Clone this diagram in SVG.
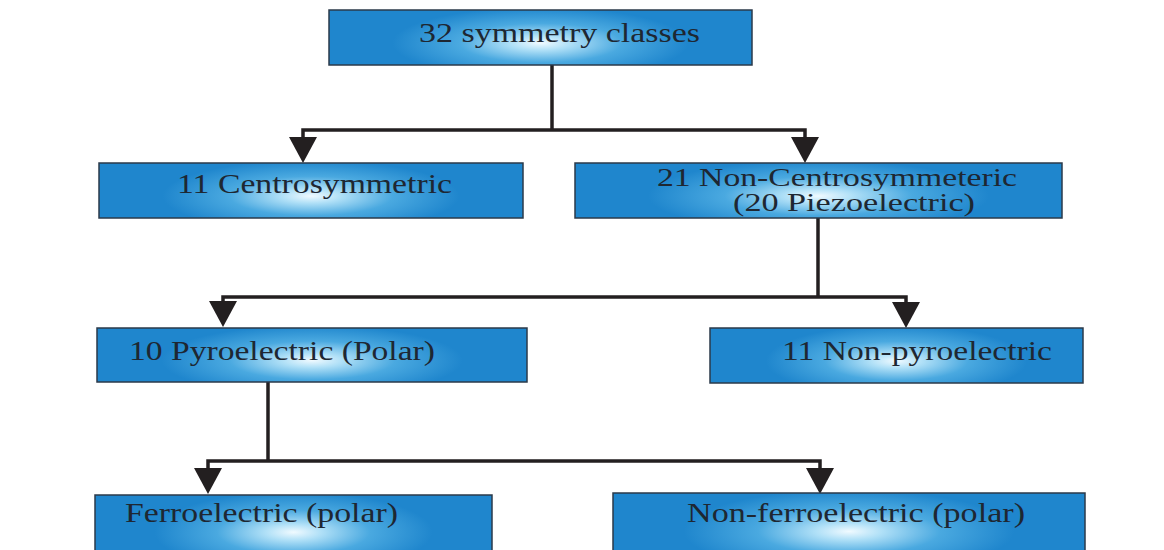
<svg xmlns="http://www.w3.org/2000/svg" width="1164" height="550" viewBox="0 0 1164 550">
  <style>
    .box { fill: url(#blueGrad); stroke: #2b3a4a; stroke-width: 1.5; }
    .lbl { font-family: "Liberation Serif", "Times New Roman", serif; font-size: 27px; fill: #1e2732; }
    .lbl2 { font-family: "Liberation Serif", "Times New Roman", serif; font-size: 25px; fill: #1e2732; }
    .conn { fill: none; stroke: #231f20; stroke-width: 3.5; stroke-linejoin: miter; }
  </style>
  <defs>
    <radialGradient id="blueGrad" cx="0.5" cy="0.6" r="0.5" gradientTransform="translate(0.5,0.6) scale(0.7,1.3) translate(-0.5,-0.6)">
      <stop offset="0" stop-color="#f0faff"/>
      <stop offset="0.2" stop-color="#b0e0f7"/>
      <stop offset="0.55" stop-color="#4aa9e0"/>
      <stop offset="1" stop-color="#1f86cd"/>
    </radialGradient>
    <marker id="arrow" markerUnits="userSpaceOnUse" markerWidth="26" markerHeight="28" viewBox="0 0 26 28" refX="0" refY="14" orient="auto">
      <path d="M0,0 L26,14 L0,28 Z" fill="#231f20"/>
    </marker>
  </defs>

  <rect width="1164" height="550" fill="#ffffff"/>

  <g id="connectors">
    <path class="conn" d="M552,65 V130"/>
    <path class="conn" d="M552,130 H303 V137" marker-end="url(#arrow)"/>
    <path class="conn" d="M552,130 H805 V137" marker-end="url(#arrow)"/>
    <path class="conn" d="M818,218 V297"/>
    <path class="conn" d="M818,297 H223 V301" marker-end="url(#arrow)"/>
    <path class="conn" d="M818,297 H906 V302" marker-end="url(#arrow)"/>
    <path class="conn" d="M268,382 V461"/>
    <path class="conn" d="M268,461 H208 V468" marker-end="url(#arrow)"/>
    <path class="conn" d="M268,461 H820 V468" marker-end="url(#arrow)"/>
  </g>

  <g id="node-32-symmetry">
    <rect class="box" x="329" y="10" width="423" height="55"/>
    <text class="lbl" x="419" y="42" textLength="281" lengthAdjust="spacingAndGlyphs">32 symmetry classes</text>
  </g>

  <g id="node-centrosymmetric">
    <rect class="box" x="99" y="163" width="424" height="55"/>
    <text class="lbl" x="177" y="193" textLength="275" lengthAdjust="spacingAndGlyphs">11 Centrosymmetric</text>
  </g>

  <g id="node-non-centrosymmetric">
    <rect class="box" x="575" y="163" width="487" height="55"/>
    <text class="lbl2" x="657" y="186" textLength="360" lengthAdjust="spacingAndGlyphs">21 Non-Centrosymmeteric</text>
    <text class="lbl2" x="733" y="211" textLength="242" lengthAdjust="spacingAndGlyphs">(20 Piezoelectric)</text>
  </g>

  <g id="node-pyroelectric">
    <rect class="box" x="97" y="328" width="430" height="54"/>
    <text class="lbl" x="129" y="360" textLength="306" lengthAdjust="spacingAndGlyphs">10 Pyroelectric (Polar)</text>
  </g>

  <g id="node-non-pyroelectric">
    <rect class="box" x="710" y="328" width="373" height="55"/>
    <text class="lbl" x="782" y="360" textLength="270" lengthAdjust="spacingAndGlyphs">11 Non-pyroelectric</text>
  </g>

  <g id="node-ferroelectric">
    <rect class="box" x="95" y="495" width="397" height="62"/>
    <text class="lbl" x="125" y="522" textLength="273" lengthAdjust="spacingAndGlyphs">Ferroelectric (polar)</text>
  </g>

  <g id="node-non-ferroelectric">
    <rect class="box" x="613" y="493" width="472" height="64"/>
    <text class="lbl" x="687" y="522" textLength="338" lengthAdjust="spacingAndGlyphs">Non-ferroelectric (polar)</text>
  </g>
</svg>
